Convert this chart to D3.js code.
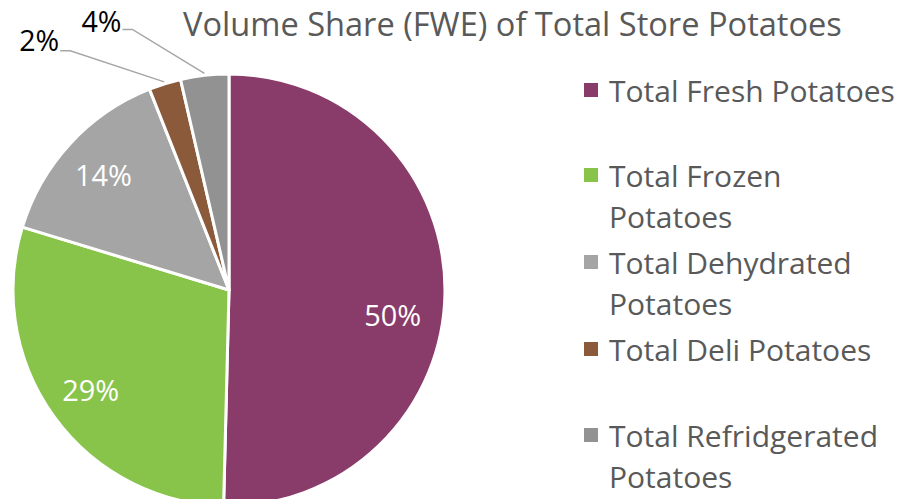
<!DOCTYPE html>
<html>
<head>
<meta charset="utf-8">
<script src="https://cdn.jsdelivr.net/npm/d3@7"></script>
<style>
  html, body { margin: 0; padding: 0; background: #fff; }
  svg { display: block; }
  text { font-family: "Open Sans", "Noto Sans", sans-serif; }
</style>
</head>
<body>
<svg id="chart" width="901" height="499"></svg>
<script>
// ---- data ----
const categories = ["Total Fresh Potatoes", "Total Frozen Potatoes", "Total Dehydrated Potatoes", "Total Deli Potatoes", "Total Refridgerated Potatoes"];
const shares = [50.4, 29.3, 14.3, 2.4, 3.6];
const shareLabels = ["50%", "29%", "14%", "2%", "4%"];
const legendLines = [["Total Fresh Potatoes"], ["Total Frozen", "Potatoes"], ["Total Dehydrated", "Potatoes"], ["Total Deli Potatoes"], ["Total Refridgerated", "Potatoes"]];
const colors = ["#893B69", "#89C44A", "#A5A5A5", "#8A5A3A", "#929292"];
const titleText = "Volume Share (FWE) of Total Store Potatoes";

// ---- layout / style ----
const W = 901, H = 499;
const cx = 229, cy = 290, R = 216;
const svg = d3.select("#chart");

function fitSize(sel, targetWidth, base) {
  sel.attr("font-size", base);
  const w = sel.node().getComputedTextLength();
  sel.attr("font-size", base * targetWidth / w);
}
// keep a text's box inside the top edge of the picture
function keepInside(sel, offsetY) {
  const b = sel.node().getBBox();
  const top = b.y + offsetY;
  if (top < 1) sel.attr("y", +sel.attr("y") + (1 - top));
}

// title
const title = svg.append("text")
  .attr("x", 183).attr("y", 33)
  .attr("fill", "#595959")
  .text(titleText);
fitSize(title, 659, 28);
keepInside(title, 0);

// pie
const pie = d3.pie().value(d => d).sort(null);
const arcs = pie(shares);
const arc = d3.arc().innerRadius(0).outerRadius(R);
const g = svg.append("g").attr("transform", `translate(${cx},${cy})`);

g.selectAll("path.slice").data(arcs).enter().append("path")
  .attr("class", "slice")
  .attr("d", arc)
  .attr("fill", (d, i) => colors[i])
  .attr("stroke", "#fff")
  .attr("stroke-width", 3)
  .attr("stroke-linejoin", "round");

// data labels
const labelArc = d3.arc().innerRadius(R * 0.79).outerRadius(R * 0.79);
const edgeArc = d3.arc().innerRadius(R + 2).outerRadius(R + 2);
// label placement (Excel best-fit style): inside with nudge, or outside with leader
const labelPlacement = [
  { inside: true, dx: -7, dy: 22 },
  { inside: true, dx: 0, dy: 0 },
  { inside: true, dx: 0, dy: 0 },
  { inside: false, dx: -94, dy: -31 },
  { inside: false, dx: -72, dy: -44 }
];
const labelFont = 28;

arcs.forEach((d, i) => {
  const p = labelPlacement[i];
  if (p.inside) {
    const c = labelArc.centroid(d);
    const t = g.append("text")
      .attr("x", c[0] + p.dx).attr("y", c[1] + p.dy)
      .attr("text-anchor", "middle")
      .attr("dominant-baseline", "central")
      .attr("fill", "#fff")
      .text(shareLabels[i]);
    fitSize(t, 57, labelFont);
  } else {
    const s = edgeArc.centroid(d);
    const e = [s[0] + p.dx, s[1] + p.dy];
    g.append("polyline")
      .attr("points", [s, e, [e[0] - 10, e[1]]].map(q => q.join(",")).join(" "))
      .attr("fill", "none")
      .attr("stroke", "#A6A6A6")
      .attr("stroke-width", 1.5);
    const t = g.append("text")
      .attr("x", e[0] - 11).attr("y", e[1])
      .attr("text-anchor", "end")
      .attr("fill", "#000")
      .text(shareLabels[i]);
    fitSize(t, 40, labelFont);
    keepInside(t, cy);
  }
});

// legend
const legendY = [90, 175, 262, 349, 435];
const lineGap = 41;
const legend = svg.append("g");
let legendFont = 26;
// determine font size from widest single-line entry
const probe = legend.append("text").text(legendLines[0][0]);
fitSize(probe, 286, 26);
legendFont = +probe.attr("font-size");
probe.remove();

legendLines.forEach((lines, i) => {
  legend.append("rect")
    .attr("x", 584).attr("y", legendY[i] - 7)
    .attr("width", 14).attr("height", 14)
    .attr("fill", colors[i]);
  lines.forEach((ln, j) => {
    legend.append("text")
      .attr("x", 609).attr("y", legendY[i] + j * lineGap)
      .attr("dominant-baseline", "central")
      .attr("font-size", legendFont)
      .attr("fill", "#595959")
      .text(ln);
  });
});
</script>
</body>
</html>
